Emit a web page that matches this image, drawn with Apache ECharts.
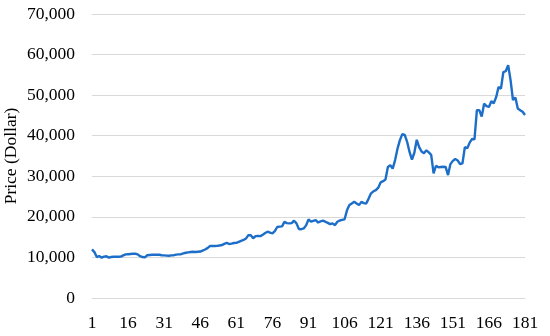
<!DOCTYPE html>
<html>
<head>
<meta charset="utf-8">
<script src="https://cdn.jsdelivr.net/npm/echarts@6/dist/echarts.min.js"></script>
<style>
  html, body { margin: 0; padding: 0; background: #fff; }
  #main { width: 550px; height: 336px; }
</style>
</head>
<body>
<div id="main"></div>
<script>
// 价格序列 (1..181)
const prices = [
  11990, 11300, 10100, 10350, 9950, 10200, 10300, 9950, 10100, 10150,
  10200, 10150, 10200, 10500, 10750, 10800, 10850, 10900, 10900, 10750,
  10300, 10100, 10000, 10550, 10600, 10650, 10650, 10700, 10650, 10550,
  10500, 10450, 10400, 10500, 10550, 10700, 10750, 10800, 11000, 11150,
  11250, 11350, 11400, 11350, 11400, 11450, 11700, 11950, 12300, 12800,
  12850, 12800, 12850, 12950, 13050, 13350, 13600, 13300, 13400, 13550,
  13600, 13850, 14100, 14300, 14650, 15500, 15450, 14700, 15250, 15300,
  15250, 15600, 16000, 16350, 16100, 15950, 16500, 17500, 17600, 17650,
  18750, 18450, 18400, 18450, 19050, 18400, 17000, 16950, 17150, 17900,
  19350, 18800, 19000, 19200, 18600, 18900, 19050, 18800, 18500, 18200,
  18400, 17950, 18800, 19100, 19250, 19400, 21600, 22900, 23300, 23700,
  23300, 22900, 23700, 23400, 23300, 24500, 25800, 26300, 26600, 27200,
  28500, 28800, 29200, 32300, 32700, 31900, 34000, 36800, 38900, 40400,
  40200, 38500, 36000, 34100, 35800, 39000, 37200, 36100, 35700, 36400,
  35900, 35300, 30700, 32600, 32200, 32300, 32350, 32300, 30300, 33000,
  33800, 34250, 33900, 33000, 33200, 37200, 36900, 38300, 39200, 39100,
  46300, 46300, 44700, 47900, 47300, 47100, 48500, 48000, 49500, 52000,
  51600, 55700, 55900, 57400, 53700, 48800, 49400, 46700, 46300, 45900,
  45100
];
const periods = prices.map((v, i) => String(i + 1));
const yMax = 70000;
const yStep = 10000;

const FONT = "'Liberation Serif', 'Times New Roman', serif";

let myChart = echarts.init(document.getElementById('main'));
myChart.setOption({
    animation: false,
    grid: { left: 92, right: 25, top: 14, bottom: 38, containLabel: false, outerBoundsMode: 'none' },
    xAxis: {
        type: 'category',
        data: periods,
        boundaryGap: false,
        axisLine: { lineStyle: { color: '#d9d9d9', width: 1 } },
        axisTick: { show: false },
        axisLabel: {
            interval: 14,
            margin: 16,
            color: '#000',
            fontFamily: FONT,
            fontSize: 17.5
        },
        splitLine: { show: false }
    },
    yAxis: {
        type: 'value',
        min: 0,
        max: yMax,
        interval: yStep,
        name: 'Price (Dollar)',
        nameLocation: 'middle',
        nameGap: 72,
        nameMoveOverlap: false,
        nameTextStyle: { color: '#000', fontFamily: FONT, fontSize: 17.5 },
        axisLine: { show: false },
        axisTick: { show: false },
        axisLabel: {
            margin: 17,
            color: '#000',
            fontFamily: FONT,
            fontSize: 17.5,
            formatter: v => v.toLocaleString('en-US')
        },
        splitLine: { lineStyle: { color: '#d9d9d9', width: 1 } }
    },
    series: [{
        type: 'line',
        data: prices,
        showSymbol: false,
        lineStyle: { color: '#1c6ec9', width: 2.4 },
        itemStyle: { color: '#1c6ec9' }
    }]
});
</script>
</body>
</html>
